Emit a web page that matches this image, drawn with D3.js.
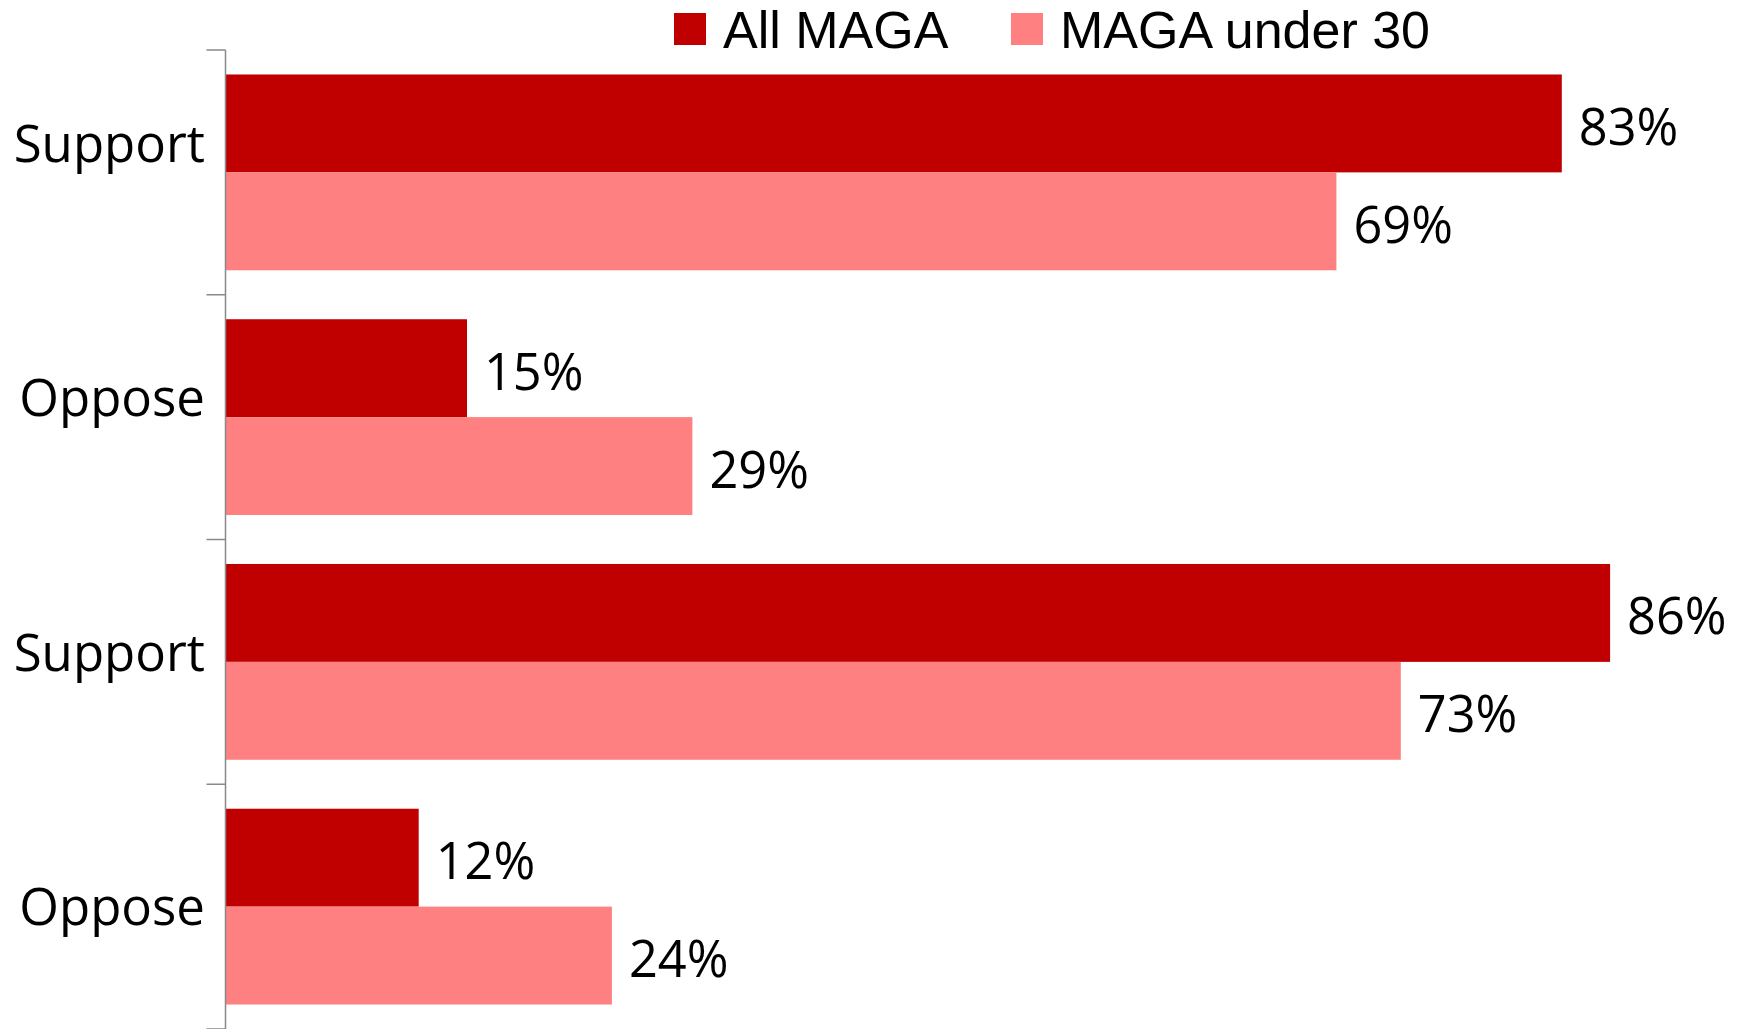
<!DOCTYPE html>
<html>
<head>
<meta charset="utf-8">
<script src="https://cdn.jsdelivr.net/npm/d3@7"></script>
<style>
  html, body { margin: 0; padding: 0; background: #ffffff; }
  svg { display: block; }
  text { font-family: "Open Sans", "Noto Sans", sans-serif; fill: #000; }
  text.leg { font-family: "Liberation Sans", Arial, sans-serif; }
</style>
</head>
<body>
<svg id="chart" width="1739" height="1029"></svg>
<script>
// ---- data ----
const categories = ["Support", "Oppose", "Support", "Oppose"];
const seriesNames = ["All MAGA", "MAGA under 30"];
const allMaga = [0.83, 0.15, 0.86, 0.12];
const magaUnder30 = [0.69, 0.29, 0.73, 0.24];
const seriesColors = ["#C00000", "#FF8080"];

const seriesValues = [allMaga, magaUnder30];
const rows = categories.map((c, i) => ({ key: i, label: c, values: seriesValues.map(s => s[i]) }));

const svg = d3.select("#chart");
const FONT = 50;

// ---- scales ----
const axisX = 225.5;
const x = d3.scaleLinear().domain([0, 1]).range([axisX, axisX + 1610]);
const yBand = d3.scaleBand().domain(rows.map(r => r.key)).range([50, 1029]).paddingInner(0).paddingOuter(0);
const ySeries = d3.scaleBand().domain(d3.range(seriesNames.length)).range([0, yBand.bandwidth()]).paddingInner(0).paddingOuter(0.25);
// category label baselines (the source places these on their own spacing)
const yLabel = d3.scalePoint().domain(rows.map(r => r.key)).range([162, 925]);

// ---- bars ----
const groups = svg.append("g").selectAll("g.row").data(rows).join("g")
  .attr("class", "row")
  .attr("transform", d => `translate(0,${yBand(d.key)})`);

groups.selectAll("rect").data(d => d.values.map((v, s) => ({ v, s }))).join("rect")
  .attr("x", x(0))
  .attr("y", d => ySeries(d.s))
  .attr("width", d => x(d.v) - x(0))
  .attr("height", ySeries.bandwidth())
  .attr("fill", d => seriesColors[d.s]);

groups.selectAll("text.val").data(d => d.values.map((v, s) => ({ v, s }))).join("text")
  .attr("class", "val")
  .attr("x", d => x(d.v) + 17)
  .attr("y", d => ySeries(d.s) + ySeries.bandwidth() / 2 + 21.5)
  .attr("font-size", 50.5)
  .text(d => d3.format(".0%")(d.v));

// ---- category axis ----
const axisColor = "#898989";
const tickYs = rows.map(r => yBand(r.key)).concat([yBand.range()[1]]);
const axisG = svg.append("g");
axisG.append("line")
  .attr("x1", axisX).attr("x2", axisX)
  .attr("y1", yBand.range()[0]).attr("y2", yBand.range()[1])
  .attr("stroke", axisColor).attr("stroke-width", 1.5);
axisG.selectAll("line.tick").data(tickYs).join("line")
  .attr("class", "tick")
  .attr("x1", axisX - 19).attr("x2", axisX)
  .attr("y1", d => d).attr("y2", d => d)
  .attr("stroke", axisColor).attr("stroke-width", 1.5);

axisG.selectAll("text.cat").data(rows).join("text")
  .attr("class", "cat")
  .attr("x", 205)
  .attr("y", d => yLabel(d.key))
  .attr("text-anchor", "end")
  .attr("font-size", 51)
  .text(d => d.label);

// ---- legend ----
const legendX = [674, 1011];
const leg = svg.append("g").selectAll("g").data(seriesNames).join("g")
  .attr("transform", (d, i) => `translate(${legendX[i]},0)`);
leg.append("rect")
  .attr("x", 0).attr("y", 13).attr("width", 32).attr("height", 32)
  .attr("fill", (d, i) => seriesColors[i]);
leg.append("text")
  .attr("class", "leg")
  .attr("x", 49).attr("y", 47.5)
  .attr("font-size", 52)
  .text(d => d);
</script>
</body>
</html>
